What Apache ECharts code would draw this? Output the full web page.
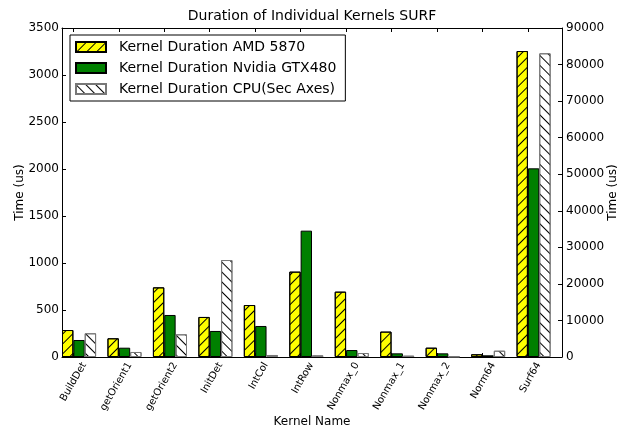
<!DOCTYPE html>
<html>
<head>
<meta charset="utf-8">
<script src="https://cdn.jsdelivr.net/npm/echarts@6/dist/echarts.min.js"></script>
<style>
html,body{margin:0;padding:0;background:#fff;}
#chart{width:631px;height:427px;}
</style>
</head>
<body>
<div id="chart"></div>
<script>
const categories = ['BuildDet','getOrient1','getOrient2','InitDet','IntCol','IntRow','Nonmax_0','Nonmax_1','Nonmax_2','Norm64','Surf64'];
const amdValues = [287, 199, 741, 426, 553, 908, 695, 270, 99, 29, 3255];
const nvidiaValues = [181, 99, 447, 277, 330, 1344, 74, 39, 39, 18, 2007];
const cpuValues = [6480, 1370, 6200, 26530, 550, 450, 1090, 360, 150, 1720, 83080];
const leftTicks = [0, 500, 1000, 1500, 2000, 2500, 3000, 3500];
const rightTicks = [0, 10000, 20000, 30000, 40000, 50000, 60000, 70000, 80000, 90000];
const seriesNames = ['Kernel Duration AMD 5870', 'Kernel Duration Nvidia GTX480', 'Kernel Duration CPU(Sec Axes)'];

const FONT = 'DejaVu Sans';
// bars occupy [i, i+0.75] of each unit slot; tick sits at i+0.25
const SLOT_START = -0.25;
const GROUP_CENTER = 0.125;
const toPoints = arr => arr.map((v, i) => [i + GROUP_CENTER, v]);

const chart = echarts.init(document.getElementById('chart'), null, {renderer: 'canvas'});
const xCommon = {
  type: 'value', min: SLOT_START, max: categories.length + SLOT_START,
  minInterval: 1, maxInterval: 1,
  axisLine: {show: true, onZero: false, lineStyle: {color: '#000', width: 1}},
  axisTick: {show: true, inside: true, length: 4, lineStyle: {color: '#000'}},
  splitLine: {show: false}
};
const option = {
  animation: false,
  backgroundColor: '#fff',
  textStyle: {fontFamily: FONT},
  title: {
    text: 'Duration of Individual Kernels SURF',
    left: 312, top: 9, padding: 0, textAlign: 'center',
    textStyle: {fontFamily: FONT, fontSize: 14, fontWeight: 'normal', color: '#000'}
  },
  legend: {
    orient: 'vertical', left: 70, top: 35,
    padding: [5, 9, 5, 5],
    itemWidth: 30, itemHeight: 10, itemGap: 7,
    icon: 'rect',
    borderColor: '#000', borderWidth: 1,
    backgroundColor: '#fff',
    selectedMode: false,
    textStyle: {fontFamily: FONT, fontSize: 14, color: '#000', padding: [0, 0, 0, 8]},
    data: seriesNames
  },
  grid: {left: 62, right: 69, top: 28, bottom: 70, containLabel: false, outerBoundsMode: 'none'},
  xAxis: [
    Object.assign({}, xCommon, {
      position: 'bottom',
      name: 'Kernel Name', nameLocation: 'middle', nameGap: 59, nameMoveOverlap: false,
      nameTextStyle: {fontFamily: FONT, fontSize: 12, color: '#000'},
      axisLabel: {
        show: true, rotate: 60, align: 'right', verticalAlign: 'top',
        margin: 0, lineHeight: 25,
        fontFamily: FONT, fontSize: 10, color: '#000',
        showMinLabel: false, showMaxLabel: false, hideOverlap: false,
        formatter: v => (Math.abs(v - Math.round(v)) < 1e-6 && categories[Math.round(v)] !== undefined) ? categories[Math.round(v)] : ''
      }
    }),
    Object.assign({}, xCommon, {position: 'top', axisLabel: {show: false}})
  ],
  yAxis: [
    {
      type: 'value', position: 'left',
      min: leftTicks[0], max: leftTicks[leftTicks.length - 1], interval: leftTicks[1] - leftTicks[0],
      name: 'Time (us)', nameLocation: 'middle', nameGap: 36, nameRotate: 90, nameMoveOverlap: false,
      nameTextStyle: {fontFamily: FONT, fontSize: 12, color: '#000'},
      axisLine: {show: true, onZero: false, lineStyle: {color: '#000', width: 1}},
      axisTick: {show: true, inside: true, length: 4, lineStyle: {color: '#000'}},
      axisLabel: {margin: 3, fontFamily: FONT, fontSize: 12, color: '#000', formatter: v => String(v)},
      splitLine: {show: false}
    },
    {
      type: 'value', position: 'right',
      min: rightTicks[0], max: rightTicks[rightTicks.length - 1], interval: rightTicks[1] - rightTicks[0],
      name: 'Time (us)', nameLocation: 'middle', nameGap: 45, nameRotate: 90, nameMoveOverlap: false,
      nameTextStyle: {fontFamily: FONT, fontSize: 12, color: '#000'},
      axisLine: {show: true, onZero: false, lineStyle: {color: '#000', width: 1}},
      axisTick: {show: true, inside: true, length: 4, lineStyle: {color: '#000'}},
      axisLabel: {margin: 4, fontFamily: FONT, fontSize: 12, color: '#000', formatter: v => String(v)},
      splitLine: {show: false}
    }
  ],
  series: [
    {
      name: seriesNames[0], type: 'bar', xAxisIndex: 0, yAxisIndex: 0,
      data: toPoints(amdValues),
      barGap: '0%', barCategoryGap: '25%',
      itemStyle: {
        color: '#ffff00', borderColor: '#000', borderWidth: 1,
        decal: {symbol: 'rect', symbolSize: 1, dashArrayX: [1, 0], dashArrayY: [1, 6], rotation: -Math.PI / 4, color: '#000'}
      }
    },
    {
      name: seriesNames[1], type: 'bar', xAxisIndex: 0, yAxisIndex: 0,
      data: toPoints(nvidiaValues),
      barGap: '0%', barCategoryGap: '25%',
      itemStyle: {color: '#008000', borderColor: '#000', borderWidth: 1}
    },
    {
      name: seriesNames[2], type: 'bar', xAxisIndex: 0, yAxisIndex: 1,
      data: toPoints(cpuValues),
      barGap: '0%', barCategoryGap: '25%',
      itemStyle: {
        color: '#ffffff', borderColor: '#777', borderWidth: 1,
        decal: {symbol: 'rect', symbolSize: 1, dashArrayX: [1, 0], dashArrayY: [1, 6], rotation: Math.PI / 4, color: '#000'}
      }
    }
  ]
};
chart.setOption(option);
</script>
</body>
</html>
